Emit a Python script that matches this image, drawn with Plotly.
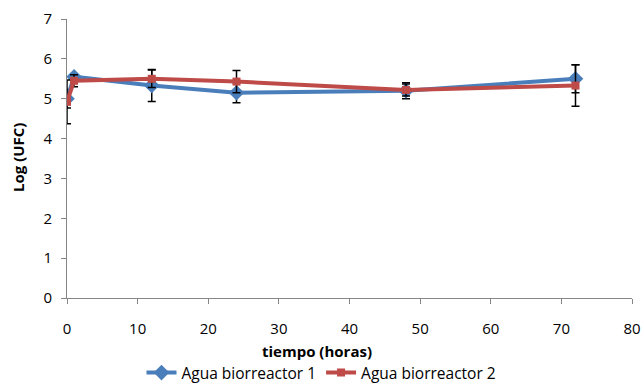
import plotly.graph_objects as go

# Sampling times (hours)
tiempo = [0, 1, 12, 24, 48, 72]

# Log(UFC) per bioreactor water sample, with standard deviations
bio1 = [5.00, 5.55, 5.33, 5.15, 5.20, 5.50]
bio1_err = [0.23, 0.05, 0.40, 0.25, 0.20, 0.35]
bio2 = [4.92, 5.45, 5.50, 5.43, 5.22, 5.33]
bio2_err = [0.55, 0.15, 0.22, 0.28, 0.15, 0.52]

x_ticks = [0, 10, 20, 30, 40, 50, 60, 70, 80]
y_ticks = [0, 1, 2, 3, 4, 5, 6, 7]

FONT = "Open Sans"
AXIS = "#868686"

fig = go.Figure()
fig.add_trace(go.Scatter(
    x=tiempo, y=bio1, name="Agua biorreactor 1", mode="lines+markers",
    line=dict(color="#4A7EBB", width=4),
    marker=dict(symbol="diamond", size=12, color="#4A7EBB"),
    error_y=dict(type="data", array=bio1_err, color="black", thickness=1.5, width=4),
))
fig.add_trace(go.Scatter(
    x=tiempo, y=bio2, name="Agua biorreactor 2", mode="lines+markers",
    line=dict(color="#BE4B48", width=4),
    marker=dict(symbol="square", size=8, color="#BE4B48"),
    error_y=dict(type="data", array=bio2_err, color="black", thickness=1.5, width=4),
))

fig.update_layout(
    width=643, height=385,
    margin=dict(l=67, r=11, t=19, b=87, autoexpand=False),
    paper_bgcolor="white", plot_bgcolor="white",
    font=dict(family=FONT, size=15, color="#000000"),
    showlegend=True,
    legend=dict(orientation="h", xref="container", yref="container",
                x=0.5, xanchor="center", y=12 / 385, yanchor="middle",
                font=dict(size=15.5), itemwidth=30, tracegroupgap=0),
    xaxis=dict(range=[0, 80], tickvals=x_ticks, showgrid=False, zeroline=False,
               showline=True, linecolor=AXIS, linewidth=1,
               ticks="outside", ticklen=5, tickcolor=AXIS,
               ticklabelstandoff=12, automargin=False),
    yaxis=dict(range=[0, 7], tickvals=y_ticks, showgrid=False, zeroline=False,
               showline=True, linecolor=AXIS, linewidth=1,
               ticks="outside", ticklen=5, tickcolor=AXIS,
               ticklabelstandoff=6, automargin=False),
    annotations=[
        dict(text="<b>tiempo (horas)</b>", xref="paper", yref="paper",
             x=(317 - 67) / 565, y=-53 / 279, showarrow=False,
             font=dict(size=15), xanchor="center", yanchor="middle"),
        dict(text="<b>Log (UFC)</b>", xref="paper", yref="paper",
             x=-49 / 565, y=(298 - 158) / 279, showarrow=False, textangle=-90,
             font=dict(size=15), xanchor="center", yanchor="middle"),
    ],
)

fig.write_html("out.html")
